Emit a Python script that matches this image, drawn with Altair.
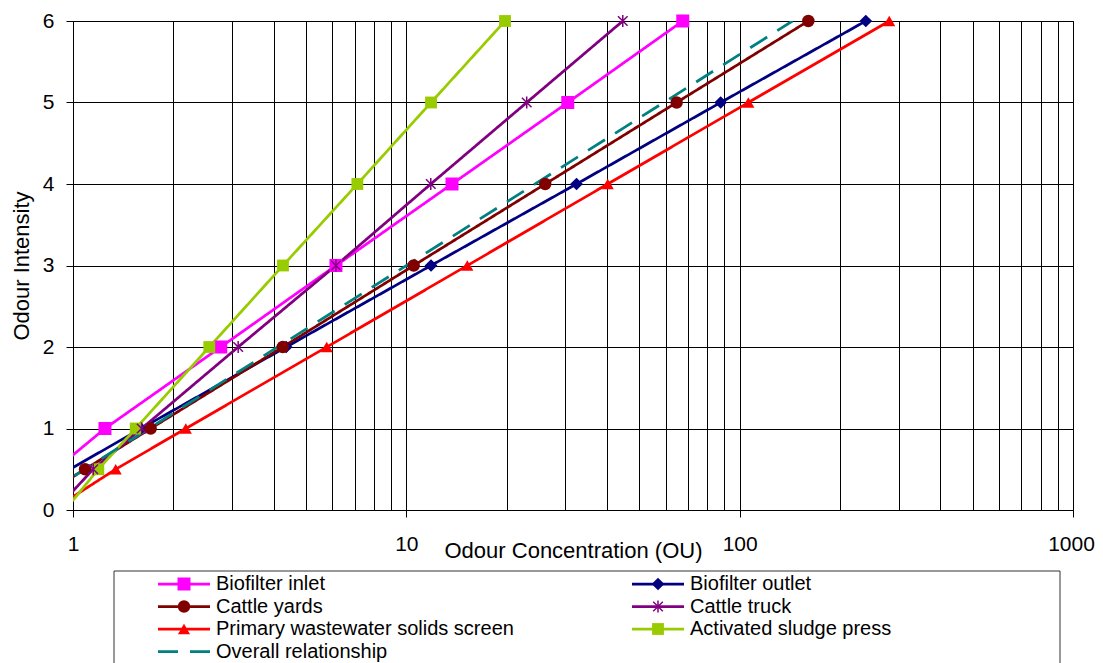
import altair as alt
import pandas as pd

# ---------------- data ----------------
series_names = ["Biofilter inlet", "Biofilter outlet", "Cattle yards", "Cattle truck",
                "Primary wastewater solids screen", "Activated sludge press",
                "Overall relationship"]
series_colors = ["#FF00FF", "#000080", "#800000", "#800080", "#FF0000", "#99CC00", "#008080"]

intensity_levels = [0, 0.5, 1, 2, 3, 4, 5, 6]
conc_biofilter_inlet = [None, 0.888, 1.247, 2.775, 6.15, 13.71, 30.5, 67.5]
conc_biofilter_outlet = [None, 0.98, 1.60, 4.36, 11.86, 32.4, 87.7, 239.0]
conc_cattle_yards = [0.69, 1.087, 1.71, 4.26, 10.52, 26.1, 64.7, 160.7]
conc_cattle_truck = [0.885, 1.15, 1.607, 3.13, 6.15, 11.84, 22.97, 44.6]
conc_primary_screen = [0.867, 1.343, 2.18, 5.77, 15.24, 40.2, 106.2, 281.0]
conc_activated_sludge = [0.946, 1.191, 1.542, 2.564, 4.265, 7.13, 11.86, 19.77]
overall_intensity = [0, 6]
overall_conc = [0.695, 144.0]

x_grid_values = [1, 2, 3, 4, 5, 6, 7, 8, 9,
                 10, 20, 30, 40, 50, 60, 70, 80, 90,
                 100, 200, 300, 400, 500, 600, 700, 800, 900, 1000]
y_tick_values = [0, 1, 2, 3, 4, 5, 6]

# legend layout (columns / rows of entries)
legend_cols = [0, 1, 0, 1, 0, 1, 0]
legend_rows = [0, 0, 1, 1, 2, 2, 3]

ASTERISK = "M0,-1L0,1M-0.8,-0.8L0.8,0.8M-0.8,0.8L0.8,-0.8"
marker_series = ["Biofilter inlet", "Biofilter outlet", "Cattle yards",
                 "Primary wastewater solids screen", "Activated sludge press"]
marker_shapes = ["square", "diamond", "circle", "triangle-up", "square"]
marker_sizes = [169, 140, 150, 175, 81]

# ---------------- build tables ----------------
rows = []
for name, concs in zip(series_names[:6], [conc_biofilter_inlet, conc_biofilter_outlet,
                                          conc_cattle_yards, conc_cattle_truck,
                                          conc_primary_screen, conc_activated_sludge]):
    for yi, c in zip(intensity_levels, concs):
        if c is not None:
            rows.append({"series": name, "conc": c, "intensity": yi})
for yi, c in zip(overall_intensity, overall_conc):
    rows.append({"series": "Overall relationship", "conc": c, "intensity": yi})
df = pd.DataFrame(rows)

legend_df = pd.DataFrame({"series": series_names, "col": legend_cols, "row": legend_rows})

FONT = "Liberation Sans"
color_scale = alt.Scale(domain=series_names, range=series_colors)
dash_scale = alt.Scale(domain=series_names, range=[[1, 0]] * 6 + [[20, 12]])
shape_scale = alt.Scale(domain=marker_series, range=marker_shapes)
size_scale = alt.Scale(domain=marker_series, range=marker_sizes)

major = "datum.value==1||datum.value==10||datum.value==100||datum.value==1000"

x_enc = alt.X("conc:Q",
              scale=alt.Scale(type="log", domain=[1, 1000], nice=False),
              axis=alt.Axis(values=x_grid_values, format="d",
                            labelExpr="(" + major + ") ? datum.label : ''",
                            tickSize=7, tickColor="black",
                            tickOpacity={"condition": {"test": major, "value": 1}, "value": 0},
                            labelOffset={"condition": {"test": "datum.value==1000", "value": -2},
                                         "value": 0},
                            grid=True, gridColor="black", gridOpacity=1, gridWidth=1,
                            domainColor="black", labelFont=FONT, labelFontSize=21,
                            labelColor="black", labelPadding=16, labelFlush=False,
                            labelOverlap=False, title="Odour Concentration (OU)",
                            titleFont=FONT, titleFontSize=22, titleFontWeight="normal",
                            titleColor="black", titleY=40, titleBaseline="middle"))
y_enc = alt.Y("intensity:Q",
              scale=alt.Scale(domain=[0, 6], nice=False),
              axis=alt.Axis(values=y_tick_values, tickSize=7, tickColor="black",
                            grid=True, gridColor="black", gridOpacity=1, gridWidth=1,
                            domainColor="black", labelFont=FONT, labelFontSize=21,
                            labelColor="black", labelPadding=12,
                            title="Odour Intensity", titleFont=FONT, titleFontSize=22,
                            titleFontWeight="normal", titleColor="black", titlePadding=9))
color_enc = alt.Color("series:N", scale=color_scale, legend=None)

lines = alt.Chart(df).mark_line(clip=True, strokeWidth=2.75).encode(
    x=x_enc, y=y_enc, color=color_enc,
    strokeDash=alt.StrokeDash("series:N", scale=dash_scale, legend=None),
    order="intensity:Q",
)

pts_df = df[(df["conc"] >= 1) & (df["series"].isin(marker_series))]
points = alt.Chart(pts_df).mark_point(filled=True, opacity=1).encode(
    x=x_enc, y=y_enc, color=color_enc,
    shape=alt.Shape("series:N", scale=shape_scale, legend=None),
    size=alt.Size("series:N", scale=size_scale, legend=None),
)

truck_df = df[(df["conc"] >= 1) & (df["series"] == "Cattle truck")]
truck_pts = alt.Chart(truck_df).mark_point(shape=ASTERISK, filled=False, size=144,
                                           strokeWidth=1.5, opacity=1).encode(
    x=x_enc, y=y_enc, color=color_enc)

main = alt.layer(lines, points, truck_pts)

# ---------------- manual legend ----------------
lx = alt.X("col:Q", scale=alt.Scale(domain=[0, 1], range=[85, 559]), axis=None)
ly = alt.Y("row:Q", scale=alt.Scale(domain=[0, 3], range=[563, 630.5]), axis=None)

box = alt.Chart(pd.DataFrame({"a": [0]})).mark_rect(
    fill=None, stroke="#333333", strokeWidth=1).encode(
    x=alt.value(41), x2=alt.value(987), y=alt.value(550), y2=alt.value(700))

leg_rules = alt.Chart(legend_df).mark_rule(strokeWidth=2.75, x2Offset=52).encode(
    x=lx, x2="col:Q", y=ly, color=color_enc,
    strokeDash=alt.StrokeDash("series:N", scale=dash_scale, legend=None))

leg_pts = alt.Chart(legend_df[legend_df["series"].isin(marker_series)]).mark_point(
    filled=True, opacity=1, xOffset=26).encode(
    x=lx, y=ly, color=color_enc,
    shape=alt.Shape("series:N", scale=shape_scale, legend=None),
    size=alt.Size("series:N", scale=size_scale, legend=None))

leg_truck = alt.Chart(legend_df[legend_df["series"] == "Cattle truck"]).mark_point(
    shape=ASTERISK, filled=False, size=144, strokeWidth=1.5, opacity=1, xOffset=26).encode(
    x=lx, y=ly, color=color_enc)

leg_text = alt.Chart(legend_df).mark_text(
    align="left", baseline="middle", dx=58, font=FONT, fontSize=20, color="black").encode(
    x=lx, y=ly, text="series:N")

legend = alt.layer(box, leg_rules, leg_pts, leg_truck, leg_text)

chart = alt.layer(main, legend).resolve_scale(
    x="independent", y="independent"
).properties(
    width=1000, height=489,
    autosize=alt.AutoSizeParams(type="none"),
    padding={"left": 65, "top": 13, "right": 22, "bottom": 170},
    background="white",
).configure_view(stroke="black", strokeWidth=1)

chart.save("out.html", embed_options={"renderer": "svg", "actions": False})
